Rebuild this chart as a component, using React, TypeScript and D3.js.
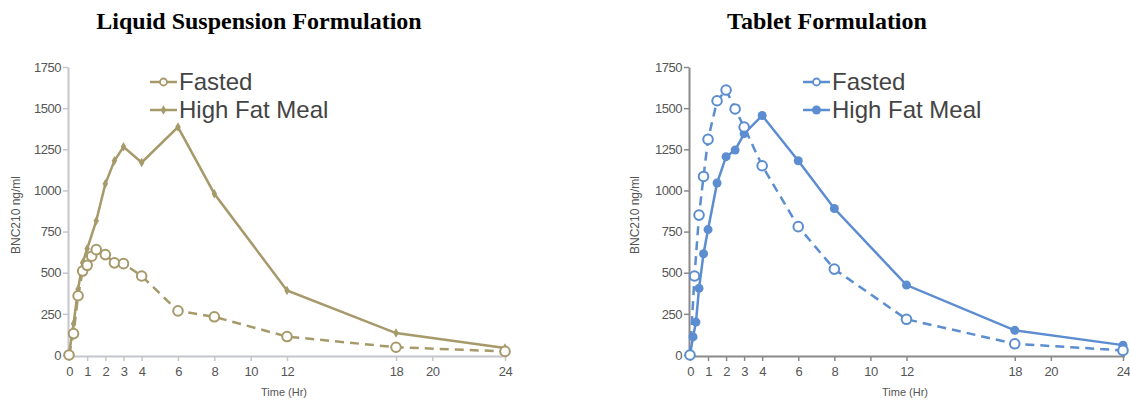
import React, { useEffect, useRef } from "react";
import * as d3 from "d3";

// x / y ticks shared by both panels
const X_TICKS = [0, 1, 2, 3, 4, 6, 8, 10, 12, 18, 20, 24];
const Y_TICKS = [0, 250, 500, 750, 1000, 1250, 1500, 1750];

// Liquid suspension
const liquidFastedTime = [0, 0.25, 0.5, 0.75, 1, 1.25, 1.5, 2, 2.5, 3, 4, 6, 8, 12, 18, 24];
const liquidFastedConc = [0, 130, 360, 510, 545, 600, 640, 610, 560, 555, 480, 268, 232, 112, 47, 22];
const liquidFedTime = [0, 0.25, 0.5, 0.75, 1, 1.5, 2, 2.5, 3, 4, 6, 8, 12, 18, 24];
const liquidFedConc = [0, 190, 400, 560, 645, 815, 1040, 1180, 1265, 1170, 1385, 980, 392, 133, 42];

// Tablet
const tabletFastedTime = [0, 0.25, 0.5, 0.75, 1, 1.5, 2, 2.5, 3, 4, 6, 8, 12, 18, 24];
const tabletFastedConc = [0, 480, 850, 1085, 1310, 1545, 1610, 1495, 1385, 1150, 780, 522, 217, 68, 28];
const tabletFedTime = [0, 0.17, 0.33, 0.5, 0.75, 1, 1.5, 2, 2.5, 3, 4, 6, 8, 12, 18, 24];
const tabletFedConc = [0, 110, 200, 405, 615, 762, 1045, 1205, 1245, 1345, 1455, 1180, 890, 425, 150, 60];

const FONT = "Arial, 'Liberation Sans', sans-serif";

const panels = [
  {
    title: "Liquid Suspension Formulation",
    titleX: 259,
    color: "#a6996a",
    axisColor: "#c4c6cc",
    xRange: [69, 505],
    legendX: 150,
    yLabelX: 20,
    xLabelX: 284,
    fedMarker: "diamond",
    fasted: [liquidFastedTime, liquidFastedConc],
    fed: [liquidFedTime, liquidFedConc],
  },
  {
    title: "Tablet Formulation",
    titleX: 827,
    color: "#5b8dd0",
    axisColor: "#8a8a8a",
    xRange: [690, 1123],
    legendX: 803,
    yLabelX: 639,
    xLabelX: 905,
    fedMarker: "circle",
    fasted: [tabletFastedTime, tabletFastedConc],
    fed: [tabletFedTime, tabletFedConc],
  },
];

const App = () => {
  const svgRef = useRef<SVGSVGElement>(null);

  useEffect(() => {
    const svg = d3.select(svgRef.current);
    svg.selectAll("*").remove();

    const y = d3.scaleLinear().domain([0, 1750]).range([355, 67]);

    panels.forEach((p) => {
      const g = svg.append("g");
      const x = d3.scaleLinear().domain([0, 24]).range(p.xRange);

      // title
      g.append("text")
        .attr("x", p.titleX)
        .attr("y", 29)
        .attr("text-anchor", "middle")
        .attr("font-family", "'Liberation Serif', 'Times New Roman', serif")
        .attr("font-weight", "bold")
        .attr("font-size", 24)
        .text(p.title);

      // y axis
      const yAxis = g.append("g")
        .attr("transform", `translate(${p.xRange[0] - 1},0)`)
        .call(d3.axisLeft(y).tickValues(Y_TICKS).tickFormat(d3.format("d")).tickSize(5).tickSizeOuter(0).tickPadding(2));
      // x axis
      const xAxis = g.append("g")
        .attr("transform", "translate(0,356)")
        .call(d3.axisBottom(x).tickValues(X_TICKS).tickFormat(d3.format("d")).tickSize(5).tickSizeOuter(0).tickPadding(6));

      [yAxis, xAxis].forEach((ax) => {
        ax.select(".domain").attr("stroke", p.axisColor).attr("stroke-width", 2);
        ax.selectAll(".tick line").attr("stroke", p.axisColor).attr("stroke-width", 1.5);
        ax.selectAll(".tick text")
          .attr("fill", "#555")
          .attr("font-size", 13)
          .attr("font-family", FONT)
          .attr("letter-spacing", -0.5);
      });
      xAxis.select(".domain").attr("d", `M${p.xRange[0] - 2},0.5H${p.xRange[1] + 2}`);

      // axis labels
      g.append("text")
        .attr("transform", `translate(${p.yLabelX},215) rotate(-90)`)
        .attr("text-anchor", "middle")
        .attr("font-family", FONT)
        .attr("font-size", 12)
        .attr("fill", "#555")
        .text("BNC210 ng/ml");
      g.append("text")
        .attr("x", p.xLabelX)
        .attr("y", 396)
        .attr("text-anchor", "middle")
        .attr("font-family", FONT)
        .attr("font-size", 11)
        .attr("fill", "#555")
        .text("Time (Hr)");

      const line = d3.line<number>()
        .x((d) => x(d[0]))
        .y((d) => y(d[1]));

      const fastedPts = p.fasted[0].map((t, i) => [t, p.fasted[1][i]]);
      const fedPts = p.fed[0].map((t, i) => [t, p.fed[1][i]]);

      g.append("path")
        .datum(fastedPts)
        .attr("d", line as any)
        .attr("fill", "none")
        .attr("stroke", p.color)
        .attr("stroke-width", 2.5)
        .attr("stroke-dasharray", "9,6");

      g.append("path")
        .datum(fedPts)
        .attr("d", line as any)
        .attr("fill", "none")
        .attr("stroke", p.color)
        .attr("stroke-width", 2.5);

      const drawFed = (sel: any, cx: number, cy: number) => {
        if (p.fedMarker === "diamond") {
          sel.append("path")
            .attr("transform", `translate(${cx},${cy})`)
            .attr("d", d3.symbol().type(d3.symbolDiamond).size(26)())
            .attr("fill", p.color);
        } else {
          sel.append("circle")
            .attr("cx", cx)
            .attr("cy", cy)
            .attr("r", 4.5)
            .attr("fill", p.color);
        }
      };

      fedPts.forEach((d) => drawFed(g, x(d[0]), y(d[1])));

      g.selectAll(".fasted-dot")
        .data(fastedPts)
        .join("circle")
        .attr("class", "fasted-dot")
        .attr("cx", (d) => x(d[0]))
        .attr("cy", (d) => y(d[1]))
        .attr("r", 4.8)
        .attr("fill", "white")
        .attr("stroke", p.color)
        .attr("stroke-width", 2);

      // legend
      const legend = [
        { label: "Fasted", y: 82, fasted: true },
        { label: "High Fat Meal", y: 110, fasted: false },
      ];
      legend.forEach((l) => {
        const lx = p.legendX;
        g.append("line")
          .attr("x1", lx)
          .attr("x2", lx + 27)
          .attr("y1", l.y)
          .attr("y2", l.y)
          .attr("stroke", p.color)
          .attr("stroke-width", 2.5);
        if (l.fasted) {
          g.append("circle")
            .attr("cx", lx + 13.5)
            .attr("cy", l.y)
            .attr("r", 3.5)
            .attr("fill", "white")
            .attr("stroke", p.color)
            .attr("stroke-width", 1.8);
        } else {
          drawFed(g, lx + 13.5, l.y);
        }
        g.append("text")
          .attr("x", lx + 29)
          .attr("y", l.y + 8)
          .attr("font-family", FONT)
          .attr("font-size", 24)
          .attr("fill", "#444")
          .text(l.label);
      });
    });
  }, []);

  return (
    <div style={{ position: "absolute", left: 0, top: 0 }}>
      <svg ref={svgRef} width={1130} height={400} style={{ display: "block", background: "white" }}></svg>
    </div>
  );
};

export default App;
